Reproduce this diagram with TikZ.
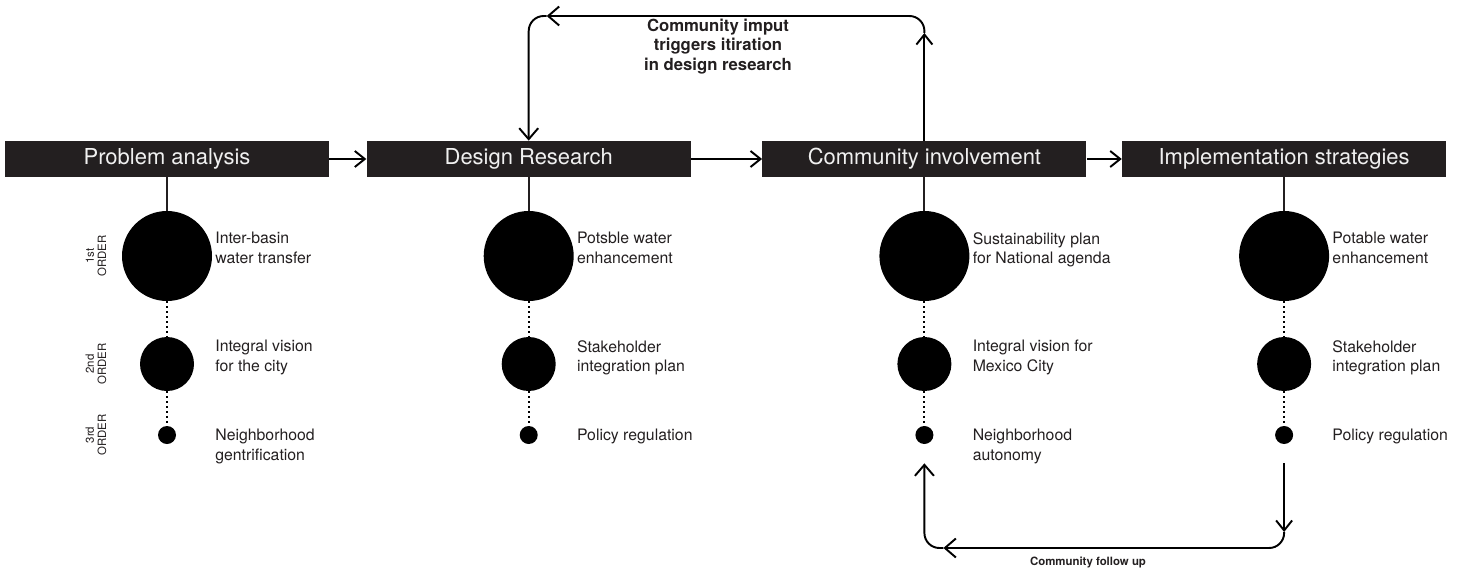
\documentclass[tikz,border=0pt]{standalone}
\usepackage{fontspec}
\setmainfont{TeX Gyre Heros}
\usepackage{tikz}
\usetikzlibrary{arrows.meta,calc,positioning}
\definecolor{barblack}{HTML}{231F20}
\definecolor{inkgray}{HTML}{231F20}

\begin{document}
\begin{tikzpicture}[
  phase/.style={fill=barblack, text=white!94!black, minimum width=6.48cm,
                minimum height=0.72cm, inner sep=0pt,
                font=\fontsize{12.5}{14}\selectfont},
  big dot/.style={circle, fill=black, minimum size=1.8cm, inner sep=0pt},
  mid dot/.style={circle, fill=black, minimum size=1.08cm, inner sep=0pt},
  small dot/.style={circle, fill=black, minimum size=0.36cm, inner sep=0pt},
  item/.style={anchor=north west, align=left, inner sep=0pt, text=inkgray,
               font=\fontsize{9}{11}\selectfont},
  order/.style={rotate=90, align=center, inner sep=0pt, text=inkgray,
                font=\fontsize{6.5}{7}\selectfont},
  stem/.style={draw=inkgray, line width=1.1pt},
  dots/.style={draw=black, line width=1.1pt, dash pattern=on 1.1pt off 1.7pt},
  flow/.style={draw=black, line width=1.1pt,
               -{Straight Barb[length=2mm,width=3.2mm]}},
  loop/.style={flow, rounded corners=0.3cm,
               -{Straight Barb[length=2.2mm,width=3.8mm]}},
  loop note/.style={align=center, inner sep=0pt, text=inkgray,
                    font=\bfseries\fontsize{9.5}{11.1}\selectfont},
]
  \useasboundingbox (0,0) rectangle (29.16,11.42);

  % #1 phase name, #2 first order, #3 second order, #4 third order
  \newcommand{\orderstack}[4]{%
    \node[big dot] (#1-1) at (#1.center |- 0,6.3) {};
    \node[mid dot] (#1-2) at (#1.center |- 0,4.14) {};
    \node[small dot] (#1-3) at (#1.center |- 0,2.72) {};
    \node[item] (#1-1t) at ([xshift=0.96cm, yshift=0.48cm]#1-1.center) {#2};
    \node[item] (#1-2t) at ([xshift=0.96cm, yshift=0.48cm]#1-2.center) {#3};
    \node[item] (#1-3t) at ([xshift=0.96cm, yshift=0.12cm]#1-3.center) {#4};
    \draw[stem] (#1.south) -- (#1-1.north);
    \draw[dots] (#1-1.south) -- (#1-2.north);
    \draw[dots] (#1-2.south) -- (#1-3.north);
  }

  % Four phases along one row.
  \node[phase] (pa) at (3.34,8.24) {Problem analysis};
  \node[phase, right=0.74cm of pa] (dr) {Design Research};
  \node[phase, right=1.42cm of dr] (ci) {Community involvement};
  \node[phase, right=0.7cm of ci] (is) {Implementation strategies};
  \draw[flow] (pa) -- (dr);
  \draw[flow] (dr) -- (ci);
  \draw[flow] (ci) -- (is);

  \orderstack{pa}{Inter-basin\\water transfer}{Integral vision\\for the city}{Neighborhood\\gentrification}
  \orderstack{dr}{Potsble water\\enhancement}{Stakeholder\\integration plan}{Policy regulation}
  \orderstack{ci}{Sustainability plan\\for National agenda}{Integral vision for\\Mexico City}{Neighborhood\\autonomy}
  \orderstack{is}{Potable water\\enhancement}{Stakeholder\\integration plan}{Policy regulation}

  % Order levels, first column only.
  \node[order] (ord1) at ([xshift=-1.42cm]pa-1.center) {1st\\ORDER};
  \node[order] (ord2) at ([xshift=-1.42cm]pa-2.center) {2nd\\ORDER};
  \node[order] (ord3) at ([xshift=-1.42cm]pa-3.center) {3rd\\ORDER};

  % Iteration loop back to design research.
  \coordinate (iterR) at (ci.north |- 0,10.76);
  \coordinate (iterL) at ($(dr.north |- 0,11.1)+(0.36,0)$);
  \draw[flow] (ci.north) -- (iterR);
  \draw[loop] (iterR) |- (iterL);
  \draw[loop] (iterL) -| (dr.north);
  \node[loop note] (iterNote) at (14.36,10.49)
    {Community imput\\triggers itiration\\in design research};

  % Follow-up loop at the bottom.
  \coordinate (fuStart) at ($(is-3.south)+(0,-0.38)$);
  \coordinate (fuEnd) at ($(ci-3.south)+(0,-0.38)$);
  \coordinate (fuDown) at (is-3 |- 0,0.78);
  \coordinate (fuLeft) at ($(ci-3 |- 0,0.46)+(0.38,0)$);
  \draw[flow] (fuStart) -- (fuDown);
  \draw[loop] (fuDown) |- (fuLeft);
  \draw[loop] (fuLeft) -| (fuEnd);
  \node[loop note, font=\bfseries\fontsize{6.5}{8}\selectfont] (fuNote)
    at (21.76,0.18) {Community follow up};
\end{tikzpicture}
\end{document}
